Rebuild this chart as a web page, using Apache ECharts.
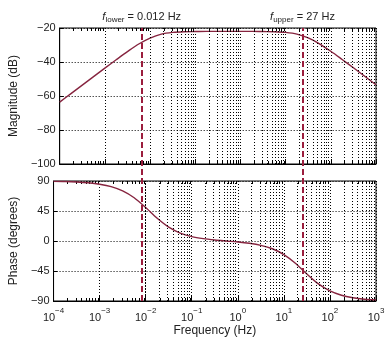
<!DOCTYPE html>
<html>
<head>
<meta charset="utf-8">
<script src="https://cdn.jsdelivr.net/npm/echarts@6/dist/echarts.min.js"></script>
<style>
  html, body { margin: 0; padding: 0; background: #fff; }
  #chart { width: 390px; height: 340px; }
</style>
</head>
<body>
<div id="chart"></div>
<script>
// Sample frequencies as decade exponents (f = 10^e Hz)
const freqExponents = [-4, -3.75, -3.5, -3.25, -3, -2.75, -2.5, -2.25, -2, -1.75, -1.5, -1.25, -1, -0.75, -0.5, -0.25,
  0, 0.25, 0.5, 0.75, 1, 1.25, 1.5, 1.75, 2, 2.25, 2.5, 2.75, 3];
// Magnitude response (dB)
const magnitudeDb = [-63.6, -58.6, -53.6, -48.6, -43.6, -38.7, -33.9, -29.4, -25.9, -23.6, -22.6, -22.2, -22.1, -22.0, -22.0, -22.0,
  -22.0, -22.0, -22.1, -22.2, -22.6, -23.6, -25.8, -29.3, -33.7, -38.5, -43.4, -48.4, -53.4];
// Phase response (degrees)
const phaseDeg = [89.5, 89.2, 88.5, 87.3, 85.2, 81.6, 75.2, 64.9, 50.2, 34.0, 20.8, 11.9, 6.6, 3.5, 1.5, 0.0,
  -1.4, -3.4, -6.5, -11.6, -20.3, -33.3, -49.5, -64.4, -74.9, -81.4, -85.1, -87.3, -88.5];
// Corner frequencies (Hz)
const cornerFreqs = { lower: 0.012, upper: 27 };
// Axis ranges and ticks
const freqRange = [1e-4, 1e3];
const magTicks = [-100, -80, -60, -40, -20];
const phaseTicks = [-90, -45, 0, 45, 90];
// Minor grid multipliers within each decade
const minorMultipliers = [2, 3, 4, 5, 6, 7, 8, 9];
const decadeStarts = [1e-4, 1e-3, 1e-2, 1e-1, 1, 10, 100];

const FONT = 'Liberation Sans, Arial, sans-serif';
const CURVE = '#86243f';
const MARK = '#9b1d3d';

const freqs = freqExponents.map(e => Math.pow(10, e));
const magData = freqs.map((f, i) => [f, magnitudeDb[i]]);
const phaseData = freqs.map((f, i) => [f, phaseDeg[i]]);

const minorFreqs = [];
decadeStarts.forEach(d => minorMultipliers.forEach(m => minorFreqs.push(d * m)));
const minorLines = minorFreqs.map(f => ({ xAxis: f }));

const minus = s => String(s).replace('-', '\u2212');

function xLabel(v) {
  const e = Math.round(Math.log10(v));
  return '{b|10}{s|' + minus(e) + '}';
}

const dotted = { color: '#000', type: [1, 2], width: 1 };

function xAxisCfg(gridIndex, showLabels) {
  return {
    type: 'log', gridIndex, logBase: 10, min: freqRange[0], max: freqRange[1], splitNumber: 7,
    axisLine: { show: true, onZero: false, lineStyle: { color: '#000', width: 1 } },
    axisTick: { show: showLabels !== null, inside: true, length: 5, lineStyle: { color: '#000' } },
    splitLine: { show: showLabels !== null, lineStyle: dotted },
    axisLabel: showLabels ? {
      formatter: xLabel, margin: 6, color: '#222',
      rich: {
        b: { fontFamily: FONT, fontSize: 11, color: '#222', verticalAlign: 'bottom', lineHeight: 16 },
        s: { fontFamily: FONT, fontSize: 8, color: '#222', verticalAlign: 'top', lineHeight: 16, padding: [0, 0, 6, 0] }
      }
    } : { show: false },
    name: showLabels ? 'Frequency (Hz)' : '',
    nameLocation: 'middle', nameGap: 24,
    nameTextStyle: { fontFamily: FONT, fontSize: 12, color: '#222' },
    show: showLabels !== null
  };
}

function yAxisCfg(gridIndex, min, max, interval, name) {
  return {
    type: 'value', gridIndex, min, max, interval,
    axisLine: { show: true, onZero: false, lineStyle: { color: '#000' } },
    axisTick: { show: true, inside: true, length: 4, lineStyle: { color: '#000' } },
    splitLine: { show: true, lineStyle: dotted },
    axisLabel: { formatter: v => minus(v), fontFamily: FONT, fontSize: 11, color: '#222', margin: 4 },
    name, nameLocation: 'middle', nameGap: 29,
    nameTextStyle: { fontFamily: FONT, fontSize: 12, color: '#222' }
  };
}

// Short inward tick marks on the top and bottom frame edges
function edgeTicks(axisIndex, yRef, len) {
  return {
    type: 'custom', xAxisIndex: axisIndex, yAxisIndex: axisIndex, silent: true, z: 2,
    data: minorFreqs.map(f => [f, yRef]),
    encode: { x: 0, y: 1 },
    renderItem(params, api) {
      const x = Math.round(api.coord([api.value(0), api.value(1)])[0]) + 0.5;
      const cs = params.coordSys;
      const style = { stroke: '#000', lineWidth: 1 };
      return {
        type: 'group',
        children: [
          { type: 'line', shape: { x1: x, y1: cs.y + cs.height, x2: x, y2: cs.y + cs.height - len }, style },
          { type: 'line', shape: { x1: x, y1: cs.y, x2: x, y2: cs.y + len }, style }
        ]
      };
    }
  };
}

const annotRich = {
  f: { fontFamily: FONT, fontSize: 11, fontStyle: 'italic', color: '#222' },
  sub: { fontFamily: FONT, fontSize: 8, color: '#222', verticalAlign: 'bottom', padding: [6, 0, 0, 0] },
  t: { fontFamily: FONT, fontSize: 11, color: '#222' }
};

const chart = echarts.init(document.getElementById('chart'), null, { renderer: 'canvas' });
chart.setOption({
  animation: false,
  backgroundColor: '#fff',
  grid: [
    { left: 48, right: 14, top: 28, height: 136, show: true, borderColor: '#000', borderWidth: 1, backgroundColor: 'transparent' },
    { left: 48, right: 14, top: 181, height: 120, show: true, borderColor: '#000', borderWidth: 1, backgroundColor: 'transparent' },
    { left: 48, right: 14, top: 28, height: 273, show: false }
  ],
  xAxis: [xAxisCfg(0, false), xAxisCfg(1, true), xAxisCfg(2, null)],
  yAxis: [
    yAxisCfg(0, magTicks[0], magTicks[magTicks.length - 1], 20, 'Magnitude (dB)'),
    yAxisCfg(1, phaseTicks[0], phaseTicks[phaseTicks.length - 1], 45, 'Phase (degrees)'),
    { type: 'value', gridIndex: 2, min: 0, max: 1, show: false }
  ],
  series: [
    {
      type: 'line', xAxisIndex: 0, yAxisIndex: 0, data: [], silent: true, z: 1,
      markLine: { silent: true, symbol: 'none', label: { show: false }, lineStyle: dotted, data: minorLines }
    },
    {
      type: 'line', xAxisIndex: 1, yAxisIndex: 1, data: [], silent: true, z: 1,
      markLine: { silent: true, symbol: 'none', label: { show: false }, lineStyle: dotted, data: minorLines }
    },
    edgeTicks(0, magTicks[0], 3),
    edgeTicks(1, phaseTicks[0], 3),
    {
      name: 'Magnitude', type: 'line', xAxisIndex: 0, yAxisIndex: 0, data: magData,
      showSymbol: false, smooth: 0.3, z: 3,
      lineStyle: { color: CURVE, width: 1.4 }
    },
    {
      name: 'Phase', type: 'line', xAxisIndex: 1, yAxisIndex: 1, data: phaseData,
      showSymbol: false, smooth: 0.3, z: 3,
      lineStyle: { color: CURVE, width: 1.4 }
    },
    {
      type: 'line', xAxisIndex: 2, yAxisIndex: 2, data: [], silent: true, z: 4,
      markLine: {
        silent: true, symbol: 'none',
        lineStyle: { color: MARK, type: [6, 3], width: 2 },
        label: { show: true, position: 'end', distance: 4, rich: annotRich },
        data: [
          { xAxis: cornerFreqs.lower, label: { formatter: '{f|f}{sub|lower}{t| = ' + cornerFreqs.lower + ' Hz}' } },
          { xAxis: cornerFreqs.upper, label: { formatter: '{f|f}{sub|upper}{t| = ' + cornerFreqs.upper + ' Hz}' } }
        ]
      }
    }
  ]
});
</script>
</body>
</html>
